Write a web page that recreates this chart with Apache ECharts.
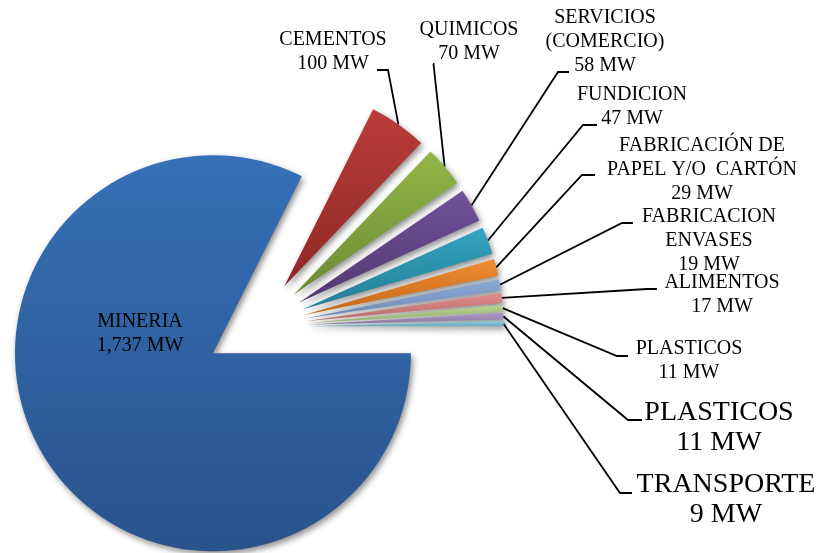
<!DOCTYPE html>
<html>
<head>
<meta charset="utf-8">
<script src="https://cdn.jsdelivr.net/npm/echarts@6/dist/echarts.min.js"></script>
<style>
  html, body { margin: 0; padding: 0; background: #ffffff; }
  #chart { width: 823px; height: 553px; }
</style>
</head>
<body>
<div id="chart"></div>
<script>
// Installed electrical capacity by industrial sector
const sectors = [
  'MINERIA', 'CEMENTOS', 'QUIMICOS', 'SERVICIOS\n(COMERCIO)', 'FUNDICION',
  'FABRICACIÓN DE\nPAPEL Y/O  CARTÓN', 'FABRICACION\nENVASES', 'ALIMENTOS',
  'PLASTICOS', 'PLASTICOS', 'TRANSPORTE'
];
const capacityMW = [1737, 100, 70, 58, 47, 29, 19, 17, 11, 11, 9];
const unitLabel = 'MW';

// Slice fills: top and bottom stops of a vertical gradient
const fillTop = ['#3670b6', '#bb3b38', '#92b648', '#71519a', '#33a5c2', '#f28c30',
                 '#8eabd8', '#dc8d8c', '#b9d292', '#ab99c3', '#8fcbdc'];
const fillBottom = ['#29538c', '#8d2926', '#6c8a33', '#523872', '#247d95', '#c26818',
                    '#6b88b6', '#bd6a69', '#97b36d', '#8b77a5', '#67abc0'];

// Pie geometry (pixels)
const pieCenter = [255.5, 327];
const pieRadius = 198;
const explode = 50;
const startAngle = 0;

// Label placement: block centre, font size and leader-line elbow/end
const labelPlace = [
  { x: 140, y: 334, size: 20, line: null },
  { x: 333, y: 52,  size: 20, line: [[388, 70], [377, 70]] },
  { x: 469, y: 42,  size: 20, line: [[433.5, 64], [433, 64]] },
  { x: 605, y: 42,  size: 20, line: [[558, 72], [569, 72]] },
  { x: 632, y: 107, size: 20, line: [[583, 125], [597, 125]] },
  { x: 702, y: 170, size: 20, line: [[582, 175], [595, 175]] },
  { x: 709, y: 241, size: 20, line: [[622, 223], [633, 223]] },
  { x: 722, y: 295, size: 20, line: [[647, 289], [657, 289]] },
  { x: 689, y: 361, size: 20, line: [[617, 356], [628, 356]] },
  { x: 719, y: 428, size: 28, line: [[628, 420], [642, 420]] },
  { x: 726, y: 500, size: 28, line: [[620, 493], [632, 493]] }
];

const total = capacityMW.reduce((a, b) => a + b, 0);

// Each slice gets its own pie series whose centre is pushed outward along
// the slice's bisector, which gives the exploded look.
function midAngle(k) {
  let before = 0;
  for (let i = 0; i < k; i++) before += capacityMW[i];
  const mid = startAngle - (before + capacityMW[k] / 2) / total * 360;
  return mid * Math.PI / 180;
}

const series = sectors.map((_, k) => {
  const a = midAngle(k);
  const cx = pieCenter[0] + explode * Math.cos(a);
  const cy = pieCenter[1] - explode * Math.sin(a);
  const place = labelPlace[k];
  return {
    type: 'pie',
    center: [cx, cy],
    radius: [0, pieRadius],
    startAngle: startAngle,
    clockwise: true,
    avoidLabelOverlap: false,
    silent: true,
    animation: false,
    label: { show: false },
    labelLine: { show: false },
    labelLayout: function (params) {
      const p = labelPlace[params.dataIndex];
      const out = { x: p.x, y: p.y, align: 'center', verticalAlign: 'middle' };
      if (p.line && params.labelLinePoints) {
        out.labelLinePoints = [params.labelLinePoints[0], p.line[0], p.line[1]];
      }
      return out;
    },
    data: sectors.map((name, i) => {
      const item = { name: name, value: capacityMW[i] };
      if (i !== k) {
        item.itemStyle = { color: 'rgba(0,0,0,0)', borderWidth: 0 };
        item.label = { show: false };
        item.labelLine = { show: false };
        return item;
      }
      item.itemStyle = {
        color: new echarts.graphic.LinearGradient(0, 0, 0, 1, [
          { offset: 0, color: fillTop[i] },
          { offset: 1, color: fillBottom[i] }
        ]),
        borderWidth: 0,
        shadowColor: 'rgba(0,0,0,0.45)',
        shadowBlur: 6,
        shadowOffsetX: 2,
        shadowOffsetY: 3
      };
      item.label = {
        show: true,
        position: i === 0 ? 'inside' : 'outside',
        formatter: (p) => p.name + '\n' + p.value.toLocaleString('en-US') + ' ' + unitLabel,
        fontFamily: '"Liberation Serif", "Times New Roman", serif',
        fontSize: place.size,
        lineHeight: place.size === 28 ? 30 : 24,
        color: '#000000',
        align: 'center'
      };
      item.labelLine = {
        show: i !== 0,
        lineStyle: { color: '#000000', width: 1.8 }
      };
      return item;
    })
  };
});

const chart = echarts.init(document.getElementById('chart'), null, { renderer: 'canvas' });
chart.setOption({
  backgroundColor: '#ffffff',
  animation: false,
  series: series
});
</script>
</body>
</html>
